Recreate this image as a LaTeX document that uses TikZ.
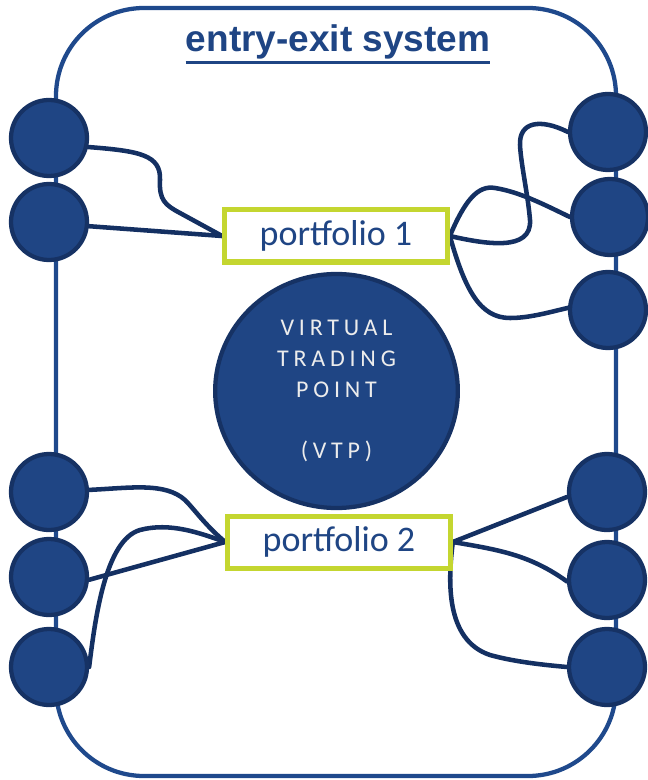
\documentclass[tikz,border=0pt]{standalone}
\usepackage{fontspec}
\usetikzlibrary{shapes.geometric}
\newfontfamily\titlefont{Liberation Sans}
\newfontfamily\calfont{Carlito}
\newfontfamily\vtpfont[LetterSpace=20]{Carlito}
\definecolor{nodeblue}{RGB}{31,69,132}
\definecolor{navy}{RGB}{22,50,100}
\definecolor{linknavy}{RGB}{20,48,98}
\definecolor{framebl}{RGB}{31,73,140}
\definecolor{limegr}{RGB}{196,214,48}
\definecolor{vtptext}{RGB}{236,236,236}
\pgfdeclarelayer{bg}
\pgfdeclarelayer{links}
\pgfsetlayers{bg,links,main}
\begin{document}
\begin{tikzpicture}[x=0.75pt,y=-0.75pt,
  station/.style={circle, minimum size=57pt, inner sep=0pt, fill=nodeblue, draw=navy, line width=3.2pt},
  portfolio/.style={rectangle, draw=limegr, fill=white, line width=3.75pt, minimum width=167pt, minimum height=39pt, inner sep=0pt, text=nodeblue, font=\calfont\fontsize{27}{32}\selectfont},
  vtpnode/.style={ellipse, minimum width=182pt, minimum height=175.5pt, inner sep=0pt, fill=nodeblue, draw=navy, line width=3.2pt, text=vtptext, align=center, font=\vtpfont\fontsize{18}{22.9}\selectfont},
  link/.style={draw=linknavy, line width=3.4pt, line cap=round},
  frameline/.style={draw=framebl, line width=3.2pt, rounded corners=66pt}]
\useasboundingbox (0,0) rectangle (648,780);

% title
\node[anchor=base, text=nodeblue, inner sep=0pt, font=\titlefont\bfseries\fontsize{27.75}{33}\selectfont] (title) at (338,52) {entry-exit system};
\draw[draw=nodeblue, line width=2pt] ([yshift=-1.8pt]title.south west) -- ([yshift=-1.8pt]title.south east);

% stations
\node[station] (l1) at (49,138) {};
\node[station] (l2) at (49,222) {};
\node[station] (l3) at (49,492) {};
\node[station] (l4) at (49,577) {};
\node[station] (l5) at (49,667) {};
\node[station] (r1) at (608,132) {};
\node[station] (r2) at (610,217) {};
\node[station] (r3) at (608,310) {};
\node[station] (r4) at (607,492) {};
\node[station] (r5) at (607,580) {};
\node[station] (r6) at (607,667) {};

% portfolios and VTP
\node[portfolio] (p1) at (336,236) {portfolio 1};
\node[portfolio] (p2) at (339,542) {portfolio 2};
\node[vtpnode] (vtp) at (336.5,391) {VIRTUAL\\TRADING\\POINT\\[22.9pt](VTP)};

\begin{pgfonlayer}{bg}
\draw[frameline] (56,8) rectangle (616,776);
\end{pgfonlayer}

\begin{pgfonlayer}{links}
% portfolio 1, left
\draw[link] (l1.-13) .. controls (140,151) and (161,155) .. (160,180)
  .. controls (159,200) and (165,205) .. (180,213) -- (p1.west);
\draw[link] (l2.-6) -- (p1.west);
% portfolio 1, right
\draw[link] (p1.east) .. controls (485,244) and (532,252) .. (530,220)
  .. controls (528,195) and (521,165) .. (520,145)
  .. controls (519,122) and (540,118) .. (r1.180);
\draw[link] (p1.east) .. controls (465,200) and (478,185) .. (495,188)
  .. controls (520,192) and (545,205) .. (r2.180);
\draw[link] (p1.east) .. controls (465,290) and (480,318) .. (510,318)
  .. controls (530,318) and (550,312) .. (r3.177);
% portfolio 2, left
\draw[link] (l3.3) .. controls (130,488) and (165,482) .. (185,500)
  .. controls (195,510) and (205,525) .. (p2.west);
\draw[link] (l4.-4) -- (p2.west);
\draw[link] (l5.0) .. controls (95,620) and (105,540) .. (140,530)
  .. controls (170,522) and (200,533) .. (p2.west);
% portfolio 2, right
\draw[link] (p2.east) -- (r4.187);
\draw[link] (p2.east) .. controls (500,550) and (530,555) .. (r5.182);
\draw[link] (p2.east) .. controls (448,580) and (445,640) .. (490,655)
  .. controls (515,662) and (545,665) .. (r6.180);
\end{pgfonlayer}
\end{tikzpicture}
\end{document}
